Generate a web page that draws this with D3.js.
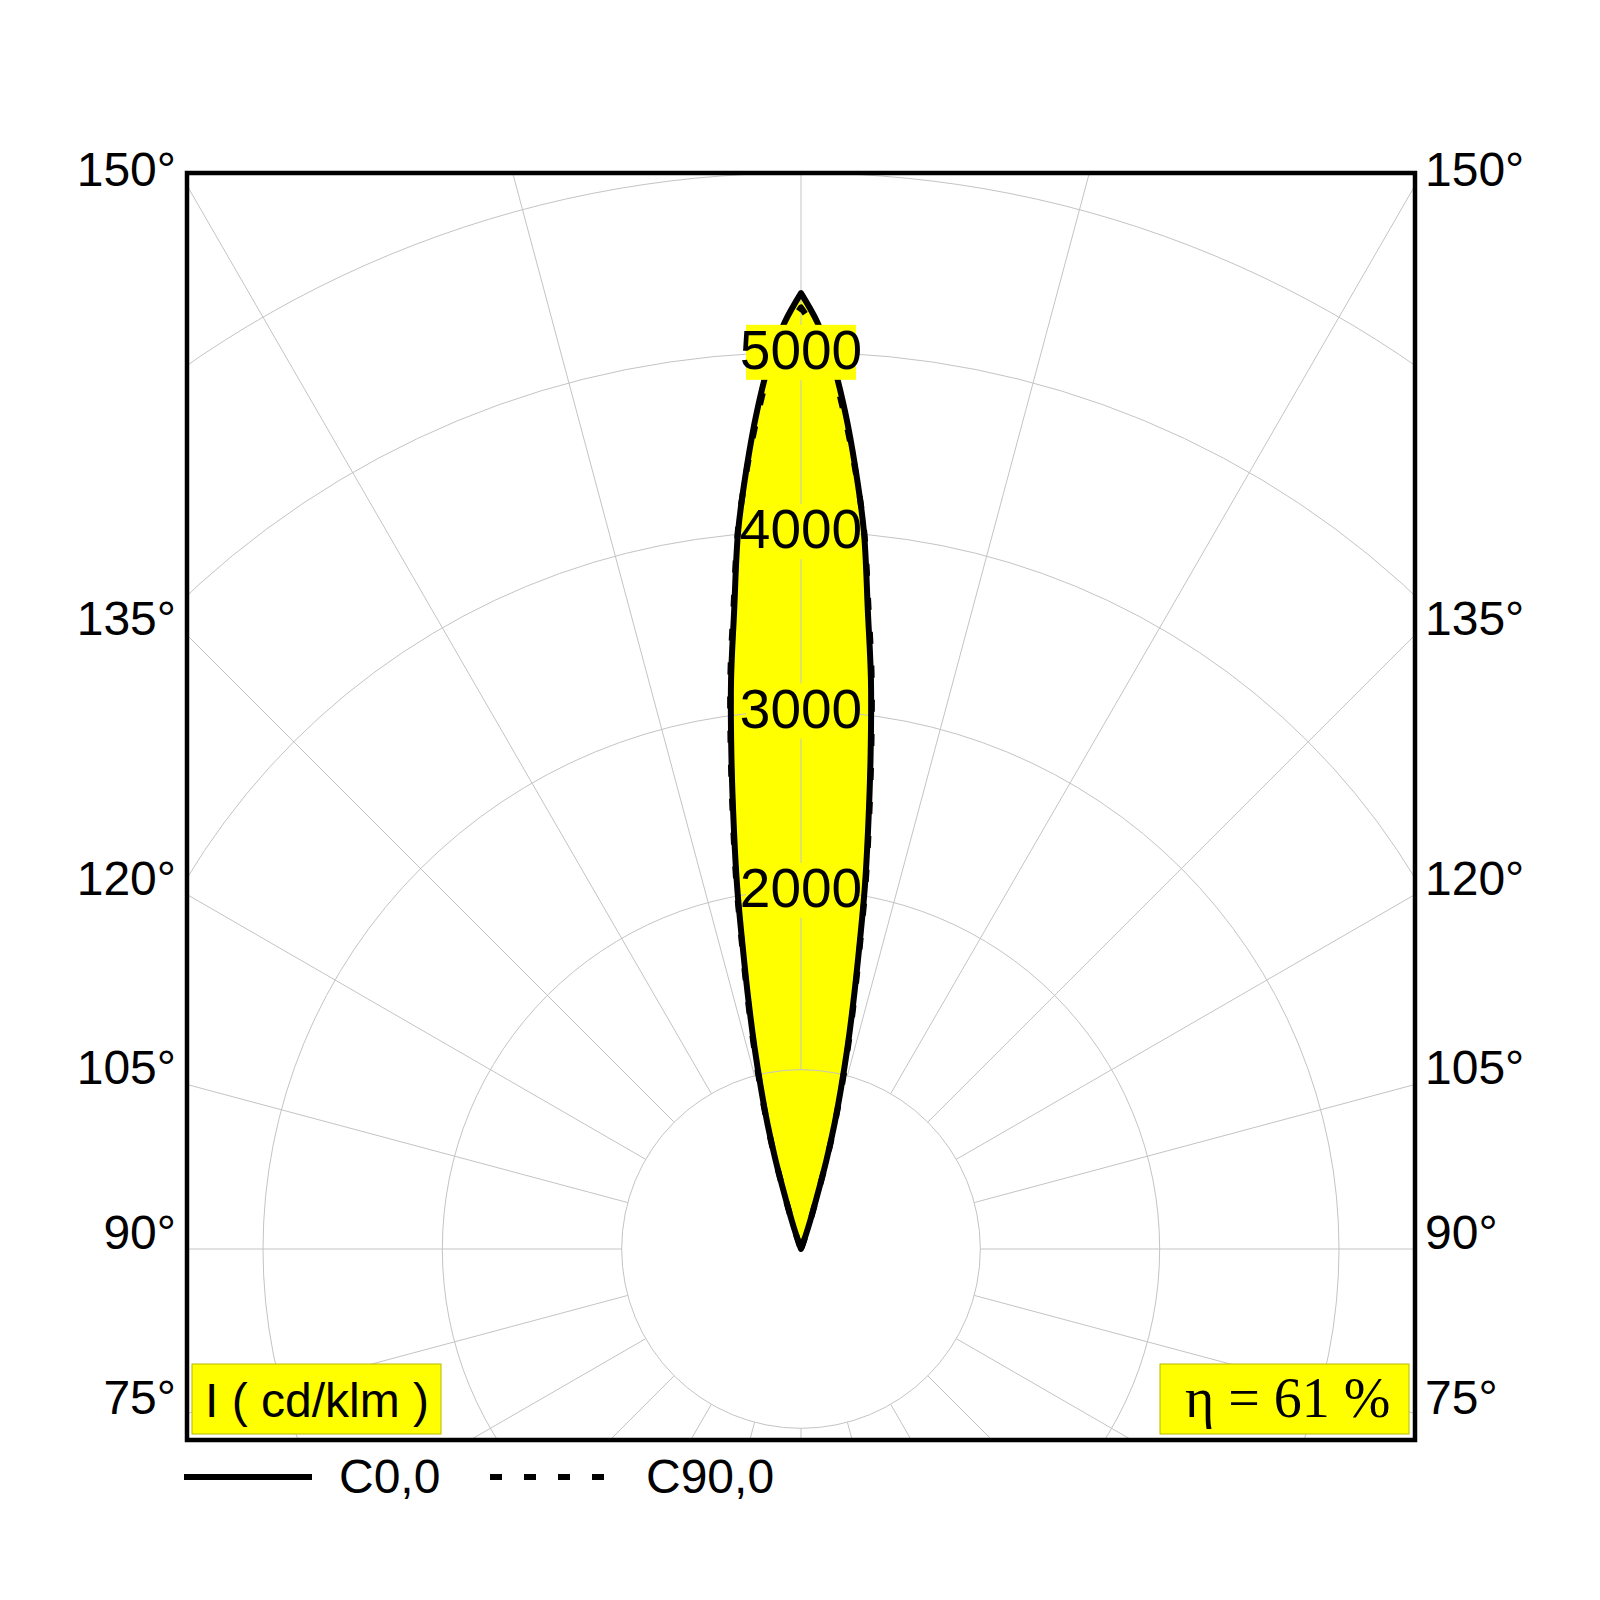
<!DOCTYPE html>
<html>
<head>
<meta charset="utf-8">
<script src="https://cdn.jsdelivr.net/npm/d3@7"></script>
<style>
  html, body { margin: 0; padding: 0; background: #ffffff; }
  svg { display: block; }
</style>
</head>
<body>
<svg id="chart" width="1600" height="1600"></svg>
<script>
// ---- data ----
const gammaAngles = [158, 159, 160, 161, 162, 163, 164, 165, 166, 167, 168, 169, 170, 171, 172, 173, 174, 175, 176, 177, 178, 179, 180];
const c0Values  = [0, 10, 30, 80, 170, 290, 510, 720, 920, 1150, 1400, 1690, 2050, 2400, 2790, 3200, 3570, 4020, 4360, 4680, 4960, 5170, 5330];
const c90Values = [0, 10, 30, 90, 180, 300, 530, 740, 950, 1180, 1430, 1720, 2080, 2430, 2820, 3230, 3600, 4030, 4350, 4650, 4920, 5110, 5250];
const gridValues = [1000, 2000, 3000, 4000, 5000, 6000];
const valueLabels = [2000, 3000, 4000, 5000];
const angleLabels = [75, 90, 105, 120, 135, 150];
const radialAngles = [0, 15, 30, 45, 60, 75, 90, 105, 120, 135, 150, 165, 180, 195, 210, 225, 240, 255, 270, 285, 300, 315, 330, 345];
const seriesNames = ["C0,0", "C90,0"];
const unitLabel = "I ( cd/klm )";
const effLabel = "\u03B7 = 61 %";

// ---- layout ----
const cx = 801, cy = 1249;
const frame = { x0: 187, x1: 1415, y0: 173, y1: 1440 };
const r = d3.scaleLinear().domain([0, 6000]).range([0, 1076]);
const sans = "'Liberation Sans', Arial, Helvetica, sans-serif";
const serif = "'Liberation Serif', 'Times New Roman', serif";
const yellow = "#ffff00";
const gridColor = "#c4c4c4";

const svg = d3.select("#chart");
svg.append("rect").attr("width", 1600).attr("height", 1600).attr("fill", "#fff");

svg.append("defs").append("clipPath").attr("id", "frameClip")
  .append("rect")
  .attr("x", frame.x0).attr("y", frame.y0)
  .attr("width", frame.x1 - frame.x0).attr("height", frame.y1 - frame.y0);

const plot = svg.append("g").attr("clip-path", "url(#frameClip)");
const g = plot.append("g").attr("transform", `translate(${cx},${cy})`);

// Build closed curve path: right half (gamma up to 180) then mirrored left half, each smoothed
const rad = d => d * Math.PI / 180;
const line = d3.lineRadial().angle(d => d.a).radius(d => r(d.v)).curve(d3.curveCatmullRom.alpha(0.5));
function curvePath(values) {
  const right = gammaAngles.map((gm, i) => ({ a: Math.PI - rad(gm), v: values[i] }));
  const left = gammaAngles.map((gm, i) => ({ a: rad(gm) - Math.PI, v: values[i] })).reverse();
  return line(right) + line(left).replace(/^M/, "L") + "Z";
}

const curves = [
  { name: seriesNames[0], d: curvePath(c0Values), dash: null },
  { name: seriesNames[1], d: curvePath(c90Values), dash: "12,22" }
];

// fills
curves.forEach(c => {
  g.append("path").attr("d", c.d).attr("fill", yellow).attr("stroke", "none");
});

// grid circles
g.selectAll("circle.grid").data(gridValues).enter().append("circle")
  .attr("class", "grid")
  .attr("r", d => r(d))
  .attr("fill", "none").attr("stroke", gridColor).attr("stroke-width", 1);

// radial lines from 1000 outward
g.selectAll("line.radial").data(radialAngles).enter().append("line")
  .attr("class", "radial")
  .attr("x1", d => r(1000) * Math.sin(Math.PI - rad(d)))
  .attr("y1", d => -r(1000) * Math.cos(Math.PI - rad(d)))
  .attr("x2", d => r(8000) * Math.sin(Math.PI - rad(d)))
  .attr("y2", d => -r(8000) * Math.cos(Math.PI - rad(d)))
  .attr("stroke", gridColor).attr("stroke-width", 1);

// curve strokes
curves.forEach(c => {
  const p = g.append("path").attr("d", c.d)
    .attr("fill", "none").attr("stroke", "#000").attr("stroke-width", 6)
    .attr("stroke-linejoin", "round").attr("stroke-linecap", "butt");
  if (c.dash) p.attr("stroke-dasharray", c.dash);
});

// value labels
const vl = g.selectAll("g.vlab").data(valueLabels).enter().append("g")
  .attr("transform", d => `translate(0,${-r(d)})`);
vl.append("rect").attr("x", -55).attr("y", -27.5).attr("width", 110).attr("height", 55).attr("fill", yellow);
vl.append("text").attr("x", 0).attr("y", 16.5).attr("text-anchor", "middle")
  .attr("font-family", sans).attr("font-size", 55).attr("fill", "#000")
  .text(d => d);

// frame
svg.append("rect")
  .attr("x", frame.x0).attr("y", frame.y0)
  .attr("width", frame.x1 - frame.x0).attr("height", frame.y1 - frame.y0)
  .attr("fill", "none").attr("stroke", "#000").attr("stroke-width", 4.5);

// angle labels
const halfW = frame.x1 - cx;
angleLabels.forEach(a => {
  const y = cy - halfW * Math.tan(rad(a - 90));
  svg.append("text").attr("x", 176).attr("y", y).attr("text-anchor", "end")
    .attr("font-family", sans).attr("font-size", 48).attr("fill", "#000").text(a + "\u00B0");
  svg.append("text").attr("x", 1425).attr("y", y).attr("text-anchor", "start")
    .attr("font-family", sans).attr("font-size", 48).attr("fill", "#000").text(a + "\u00B0");
});

// unit box
svg.append("rect").attr("x", 192).attr("y", 1364).attr("width", 249).attr("height", 70)
  .attr("fill", yellow).attr("stroke", "#b8b800").attr("stroke-width", 1);
svg.append("text").attr("x", 205).attr("y", 1417).attr("font-family", sans).attr("font-size", 48)
  .attr("fill", "#000").text(unitLabel);

// efficiency box
svg.append("rect").attr("x", 1160).attr("y", 1364).attr("width", 249).attr("height", 70)
  .attr("fill", yellow).attr("stroke", "#b8b800").attr("stroke-width", 1);
svg.append("text").attr("x", 1185).attr("y", 1417).attr("font-family", serif).attr("font-size", 56)
  .attr("fill", "#000").text(effLabel);

// legend
svg.append("line").attr("x1", 184).attr("x2", 312).attr("y1", 1477).attr("y2", 1477)
  .attr("stroke", "#000").attr("stroke-width", 6);
svg.append("text").attr("x", 339).attr("y", 1493).attr("font-family", sans).attr("font-size", 48)
  .attr("fill", "#000").text(seriesNames[0]);
svg.append("line").attr("x1", 490).attr("x2", 604).attr("y1", 1477).attr("y2", 1477)
  .attr("stroke", "#000").attr("stroke-width", 6).attr("stroke-dasharray", "12,22");
svg.append("text").attr("x", 646).attr("y", 1493).attr("font-family", sans).attr("font-size", 48)
  .attr("fill", "#000").text(seriesNames[1]);
</script>
</body>
</html>
